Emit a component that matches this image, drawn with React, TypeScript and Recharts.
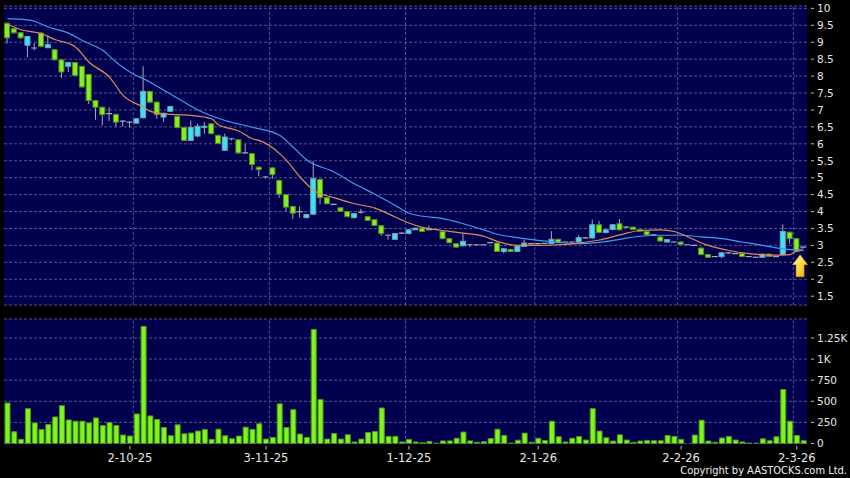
import React from 'react';
import {
  ComposedChart,
  Bar,
  Line,
  XAxis,
  YAxis,
  CartesianGrid,
  ReferenceLine,
  ReferenceDot,
} from 'recharts';

// ---- daily candles (oldest -> newest) ----
const opens = [
  9.56, 9.40, 9.28, 8.91, 8.83, 9.27, 8.84, 8.78, 8.48, 8.29,
  8.40, 8.29, 8.05, 7.28, 7.08, 6.89, 6.87, 6.67, 6.64, 6.61,
  6.77, 7.55, 7.23, 6.79, 6.96, 6.81, 6.48, 6.10, 6.23, 6.48,
  6.59, 6.25, 5.81, 6.15, 6.12, 5.73, 5.71, 5.31, 5.02, 5.29,
  4.92, 4.50, 4.15, 4.00, 3.82, 3.92, 4.95, 4.41, 4.21, 4.11,
  4.00, 3.82, 3.98, 3.85, 3.76, 3.58, 3.30, 3.18, 3.36, 3.35,
  3.46, 3.51, 3.46, 3.47, 3.41, 3.20, 3.05, 2.99, 3.02, 3.02,
  3.02, 3.08, 3.07, 2.82, 2.88, 2.82, 2.97, 3.05, 3.05, 3.06,
  3.05, 3.18, 3.10, 3.10, 3.10, 3.22, 3.22, 3.61, 3.38, 3.47,
  3.64, 3.54, 3.54, 3.47, 3.41, 3.31, 3.25, 3.10, 3.10, 3.10,
  3.02, 3.00, 2.92, 2.73, 2.67, 2.67, 2.78, 2.76, 2.76, 2.67,
  2.65, 2.65, 2.74, 2.67, 2.73, 3.39, 3.20, 2.95,
];
const highs = [
  9.58, 9.42, 9.30, 9.17, 8.98, 9.30, 9.20, 8.80, 8.50, 8.42,
  8.42, 8.30, 8.06, 7.30, 7.10, 7.08, 6.89, 6.69, 6.66, 6.76,
  8.29, 7.56, 7.25, 6.92, 7.12, 6.83, 6.50, 6.69, 6.60, 6.64,
  6.62, 6.27, 6.30, 6.17, 6.14, 6.00, 5.73, 5.33, 5.05, 5.31,
  4.94, 4.52, 4.17, 4.15, 3.93, 5.49, 4.97, 4.43, 4.23, 4.13,
  4.02, 3.96, 4.08, 3.87, 3.78, 3.60, 3.32, 3.37, 3.38, 3.48,
  3.52, 3.53, 3.58, 3.49, 3.43, 3.22, 3.07, 3.35, 3.04, 3.04,
  3.03, 3.09, 3.09, 2.92, 2.90, 2.99, 3.17, 3.07, 3.06, 3.07,
  3.42, 3.20, 3.11, 3.12, 3.30, 3.24, 3.76, 3.72, 3.48, 3.63,
  3.78, 3.56, 3.56, 3.49, 3.43, 3.33, 3.27, 3.19, 3.12, 3.12,
  3.02, 3.02, 2.94, 2.75, 2.68, 2.80, 2.80, 2.78, 2.78, 2.68,
  2.66, 2.76, 2.76, 2.69, 3.62, 3.41, 3.22, 2.97,
];
const lows = [
  8.96, 9.25, 9.10, 8.56, 8.76, 8.85, 8.82, 8.46, 7.95, 8.12,
  8.00, 7.66, 7.18, 6.71, 6.54, 6.67, 6.51, 6.51, 6.48, 6.60,
  6.75, 7.20, 6.74, 6.64, 6.94, 6.46, 6.08, 6.08, 6.20, 6.30,
  6.28, 5.99, 5.79, 6.10, 5.71, 5.71, 5.22, 5.04, 4.98, 4.97,
  4.41, 4.01, 3.78, 3.82, 3.80, 3.90, 4.21, 4.21, 4.19, 3.99,
  3.83, 3.80, 3.94, 3.72, 3.57, 3.28, 3.17, 3.16, 3.34, 3.33,
  3.45, 3.40, 3.45, 3.45, 3.18, 3.06, 2.93, 2.97, 2.96, 3.00,
  3.01, 3.07, 2.80, 2.76, 2.81, 2.81, 2.96, 3.03, 3.04, 3.05,
  3.04, 3.06, 3.09, 3.08, 3.09, 3.20, 3.20, 3.36, 3.36, 3.45,
  3.44, 3.52, 3.45, 3.41, 3.29, 3.29, 3.11, 3.08, 3.08, 3.02,
  3.02, 2.98, 2.71, 2.64, 2.66, 2.62, 2.76, 2.75, 2.66, 2.66,
  2.64, 2.64, 2.66, 2.66, 2.71, 3.05, 2.81, 2.93,
];
const closes = [
  9.13, 9.28, 9.13, 9.17, 8.83, 8.88, 8.93, 8.48, 8.12, 8.40,
  8.02, 7.68, 7.28, 7.08, 6.86, 6.89, 6.64, 6.67, 6.64, 6.74,
  7.55, 7.23, 6.86, 6.90, 7.10, 6.48, 6.10, 6.48, 6.52, 6.52,
  6.30, 6.01, 6.20, 6.15, 5.73, 5.73, 5.39, 5.24, 5.02, 5.09,
  4.51, 4.13, 3.95, 4.00, 3.91, 4.97, 4.41, 4.23, 4.21, 4.01,
  3.85, 3.94, 3.98, 3.74, 3.59, 3.35, 3.30, 3.35, 3.36, 3.46,
  3.51, 3.41, 3.50, 3.47, 3.20, 3.08, 2.95, 3.12, 3.02, 3.02,
  3.02, 3.08, 2.82, 2.90, 2.82, 2.97, 3.07, 3.05, 3.05, 3.06,
  3.18, 3.08, 3.10, 3.10, 3.23, 3.22, 3.61, 3.38, 3.46, 3.61,
  3.46, 3.54, 3.47, 3.42, 3.31, 3.31, 3.13, 3.17, 3.10, 3.03,
  3.02, 3.00, 2.73, 2.65, 2.67, 2.78, 2.78, 2.76, 2.67, 2.67,
  2.65, 2.74, 2.67, 2.67, 3.41, 3.20, 2.83, 2.95,
];
const volumes = [
  479, 139, 49, 413, 244, 167, 225, 315, 448, 279,
  264, 264, 244, 303, 213, 249, 213, 100, 88, 350,
  1388, 327, 284, 190, 92, 221, 115, 123, 147, 167,
  49, 170, 92, 56, 88, 194, 167, 233, 52, 72,
  470, 190, 401, 112, 72, 1352, 522, 52, 119, 52,
  104, 18, 52, 131, 143, 421, 84, 84, 18, 49,
  18, 8, 25, 3, 31, 31, 62, 135, 31, 14,
  21, 59, 170, 96, 5, 39, 123, 14, 62, 35,
  264, 80, 18, 62, 82, 41, 413, 147, 68, 29,
  103, 41, 14, 29, 37, 33, 33, 96, 84, 49,
  0, 100, 276, 29, 14, 65, 84, 41, 18, 5,
  3, 55, 33, 80, 640, 264, 96, 33,
];

// ---- moving averages (bar index -> value) ----
const maSlowIdx = [0, 2, 4, 6, 9, 11, 14, 16, 18, 21, 23, 26, 28, 32, 36, 40, 42, 44, 48, 51, 54, 57, 59, 61, 64, 67, 70, 72, 75, 78, 81, 84, 87, 90, 93, 96, 99, 102, 105, 108, 111, 114, 116, 117];
const maSlowVal = [9.70, 9.68, 9.62, 9.45, 9.27, 9.05, 8.76, 8.41, 8.12, 7.82, 7.58, 7.23, 7.00, 6.69, 6.49, 6.25, 5.90, 5.52, 5.17, 4.82, 4.51, 4.18, 3.95, 3.86, 3.79, 3.64, 3.46, 3.33, 3.23, 3.15, 3.09, 3.05, 3.09, 3.18, 3.27, 3.30, 3.30, 3.25, 3.20, 3.10, 3.00, 2.90, 2.87, 2.90];
const maFastIdx = [0, 2, 5, 7, 10, 12, 15, 17, 20, 21, 24, 27, 30, 31, 34, 36, 37, 40, 41, 43, 45, 48, 51, 54, 57, 59, 61, 64, 67, 70, 72, 75, 78, 81, 84, 87, 90, 93, 96, 98, 100, 103, 106, 109, 113, 115, 116, 117];
const maFastVal = [9.53, 9.37, 9.25, 9.08, 8.86, 8.41, 7.97, 7.43, 7.08, 6.96, 6.87, 6.84, 6.74, 6.56, 6.38, 6.15, 6.10, 5.71, 5.51, 5.02, 4.63, 4.41, 4.23, 4.10, 3.84, 3.66, 3.53, 3.44, 3.36, 3.27, 3.12, 3.00, 3.00, 3.02, 3.07, 3.16, 3.31, 3.44, 3.46, 3.41, 3.25, 3.00, 2.85, 2.76, 2.71, 2.73, 2.83, 2.85];

// ---- axes ----
const dateTickIdx = [18, 38, 59, 78, 99, 116];
const dateTickLabels = ['2-10-25', '3-11-25', '1-12-25', '2-1-26', '2-2-26', '2-3-26'];
const monthStartIdx = [19, 39, 59, 78, 99, 116];
const priceTicks = [1.5, 2, 2.5, 3, 3.5, 4, 4.5, 5, 5.5, 6, 6.5, 7, 7.5, 8, 8.5, 9, 9.5, 10];
const volTicks = [0, 250, 500, 750, 1000, 1250];
const volTickLabels = ['0', '250', '500', '750', '1K', '1.25K'];

const slowMap = new Map(maSlowIdx.map((k, j) => [k, maSlowVal[j]]));
const fastMap = new Map(maFastIdx.map((k, j) => [k, maFastVal[j]]));
const data = opens.map((o, i) => ({
  i,
  o,
  h: highs[i],
  l: lows[i],
  c: closes[i],
  v: volumes[i],
  maSlow: slowMap.has(i) ? slowMap.get(i) : null,
  maFast: fastMap.has(i) ? fastMap.get(i) : null,
}));
const lastIdx = data.length - 1;

const NAVY = '#00004e';
const GRID = '#52528c';
const FONT = 'DejaVu Sans';
const TEXT = '#e6e6e6';

const Candle = (props: any) => {
  const { x, y, width, height, payload } = props;
  if (x == null || y == null || !payload) return null;
  const { o, h, l, c } = payload;
  const y0 = Math.min(y, y + height);
  const hh = Math.abs(height);
  const span = h - l;
  const py = (v: number) => (span > 0 ? y0 + ((h - v) / span) * hh : y0);
  const cx = x + width / 2;
  const top = py(Math.max(o, c));
  const bot = py(Math.min(o, c));
  const wick = (
    <line x1={cx} x2={cx} y1={y0} y2={y0 + hh} stroke="#a9a9b4" strokeWidth={1} />
  );
  if (Math.abs(c - o) < 1e-9) {
    return (
      <g>
        {wick}
        <line x1={x} x2={x + width} y1={top} y2={top} stroke="#a9a9b4" strokeWidth={1.2} />
      </g>
    );
  }
  const up = c > o;
  return (
    <g>
      {wick}
      <rect
        x={x + 0.5}
        y={top}
        width={width - 1}
        height={Math.max(bot - top, 1)}
        fill={up ? '#33e6f6' : '#86ee22'}
        stroke={up ? '#7f9cb4' : '#4f8e1a'}
        strokeWidth={1}
      />
    </g>
  );
};

const Arrow = (props: any) => {
  const { cx, cy } = props;
  if (cx == null || cy == null) return null;
  const x = cx - 3.5;
  const t = cy + 7;
  const pts = [
    [x, t],
    [x + 7.5, t + 10],
    [x + 4, t + 10],
    [x + 4, t + 22],
    [x - 4, t + 22],
    [x - 4, t + 10],
    [x - 7.5, t + 10],
  ]
    .map((p) => p.join(','))
    .join(' ');
  return (
    <g>
      <defs>
        <linearGradient id="arrowGrad" x1="0" y1="0" x2="1" y2="1">
          <stop offset="0" stopColor="#fff8b0" />
          <stop offset="0.5" stopColor="#ffdc40" />
          <stop offset="1" stopColor="#e39c00" />
        </linearGradient>
      </defs>
      <polygon points={pts} fill="url(#arrowGrad)" stroke="#d09400" strokeWidth={0.5} />
    </g>
  );
};

const makeYTick = (labels?: string[], values?: number[]) => (props: any) => {
  const { x, y, payload } = props;
  let label = String(payload.value);
  if (labels && values) {
    const k = values.indexOf(payload.value);
    if (k >= 0) label = labels[k];
  }
  return (
    <g>
      <line x1={x + 4} x2={x + 7} y1={y} y2={y} stroke="#bdbdbd" strokeWidth={1} />
      <text x={x + 10} y={y} dy={3.8} fill={TEXT} fontSize={10.5} fontFamily={FONT} textAnchor="start">
        {label}
      </text>
    </g>
  );
};

const XTick = (props: any) => {
  const { x, y, payload } = props;
  const k = dateTickIdx.indexOf(payload.value);
  const label = k >= 0 ? dateTickLabels[k] : '';
  return (
    <g>
      <line x1={x} x2={x} y1={y + 2.5} y2={y + 6} stroke="#bdbdbd" strokeWidth={1} />
      <text x={x} y={y + 18.5} fill={TEXT} fontSize={11.5} fontFamily={FONT} textAnchor="middle">
        {label}
      </text>
    </g>
  );
};

export default function App() {
  return (
    <div
      style={{
        position: 'absolute',
        left: 0,
        top: 0,
        width: 850,
        height: 478,
        background: '#000',
        overflow: 'hidden',
      }}
    >
      <div style={{ position: 'absolute', left: 0, top: 0 }}>
        <ComposedChart
          width={850}
          height={312}
          data={data}
          margin={{ top: 6, right: 0, bottom: 7, left: 4 }}
        >
          <CartesianGrid vertical={false} stroke={GRID} strokeDasharray="3 2" fill={NAVY} />
          <XAxis dataKey="i" type="category" hide />
          <YAxis
            orientation="right"
            width={43}
            domain={[1.24, 10.07]}
            allowDataOverflow
            ticks={priceTicks}
            interval={0}
            tickLine={false}
            axisLine={false}
            tickSize={0}
            tickMargin={0}
            tick={makeYTick()}
          />
          {monthStartIdx.map((k) => (
            <ReferenceLine
              key={k}
              x={k}
              position="start"
              stroke={GRID}
              strokeDasharray="3 2"
              ifOverflow="visible"
            />
          ))}
          <Line
            dataKey="maSlow"
            type="monotone"
            stroke="#3d9cf0"
            strokeWidth={1.2}
            dot={false}
            connectNulls
            isAnimationActive={false}
          />
          <Line
            dataKey="maFast"
            type="monotone"
            stroke="#e08a5a"
            strokeWidth={1.2}
            dot={false}
            connectNulls
            isAnimationActive={false}
          />
          <Bar
            dataKey={(d: any) => [d.l, d.h]}
            barSize={6}
            shape={(p: any) => <Candle {...p} />}
            isAnimationActive={false}
          />
          <ReferenceDot
            x={lastIdx}
            y={lows[lastIdx]}
            r={0}
            ifOverflow="visible"
            shape={(p: any) => <Arrow {...p} />}
          />
        </ComposedChart>
      </div>
      <div style={{ position: 'absolute', left: 0, top: 312 }}>
        <ComposedChart
          width={850}
          height={166}
          data={data}
          margin={{ top: 7, right: 0, bottom: 0, left: 4 }}
        >
          <CartesianGrid vertical={false} stroke={GRID} strokeDasharray="3 2" fill={NAVY} />
          <XAxis
            dataKey="i"
            type="category"
            height={34.5}
            ticks={dateTickIdx}
            interval={0}
            tickLine={false}
            axisLine={false}
            tickSize={0}
            tickMargin={0}
            tick={(p: any) => <XTick {...p} />}
          />
          <YAxis
            orientation="right"
            width={43}
            domain={[0, 1475]}
            allowDataOverflow
            ticks={volTicks}
            interval={0}
            tickLine={false}
            axisLine={false}
            tickSize={0}
            tickMargin={0}
            tick={makeYTick(volTickLabels, volTicks)}
          />
          {monthStartIdx.map((k) => (
            <ReferenceLine
              key={k}
              x={k}
              position="start"
              stroke={GRID}
              strokeDasharray="3 2"
              ifOverflow="visible"
            />
          ))}
          <Bar
            dataKey="v"
            barSize={5}
            fill="#7ff41e"
            stroke="#4c9c12"
            strokeWidth={1}
            isAnimationActive={false}
          />
        </ComposedChart>
      </div>
      <div
        style={{
          position: 'absolute',
          right: 3,
          bottom: 1,
          color: '#f0f0f0',
          fontFamily: '"DejaVu Sans Condensed", "DejaVu Sans", sans-serif',
          fontSize: 11,
          lineHeight: '13px',
          whiteSpace: 'nowrap',
        }}
      >
        Copyright by AASTOCKS.com Ltd.
      </div>
    </div>
  );
}
